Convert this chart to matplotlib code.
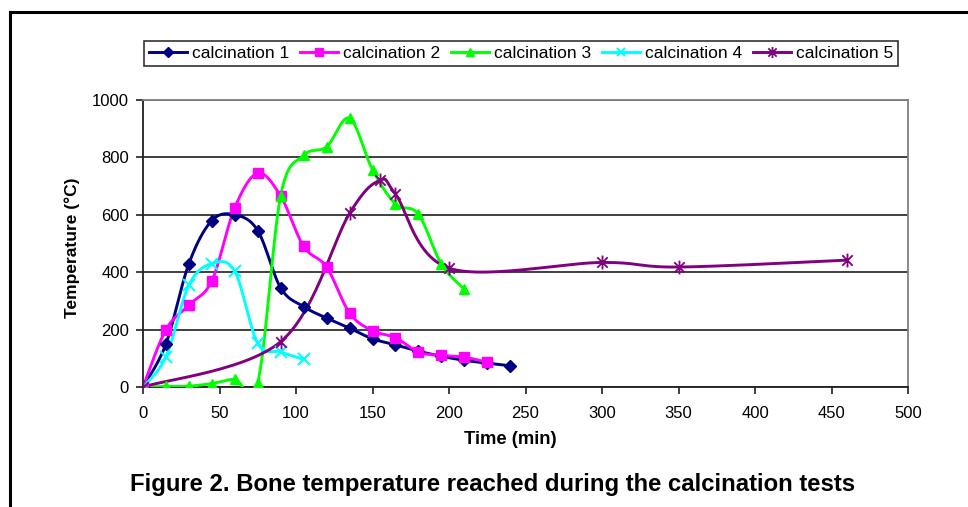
import numpy as np
import matplotlib
matplotlib.use("Agg")
import matplotlib.pyplot as plt
from matplotlib.path import Path
from matplotlib.lines import Line2D

plt.rcParams['font.family'] = ['Liberation Sans', 'DejaVu Sans']

# data (time in min, temperature in degC)
t1 = [0, 15, 30, 45, 60, 75, 90, 105, 120, 135, 150, 165, 180, 195, 210, 225, 240]
T1 = [0, 150, 430, 580, 600, 545, 345, 280, 240, 205, 168, 147, 125, 107, 93, 83, 74]

t2 = [0, 15, 30, 45, 60, 75, 90, 105, 120, 135, 150, 165, 180, 195, 210, 225]
T2 = [0, 200, 285, 370, 625, 745, 665, 490, 418, 258, 196, 172, 122, 110, 104, 86]

t3 = [0, 15, 30, 45, 60, 75, 90, 105, 120, 135, 150, 165, 180, 195, 210]
T3 = [0, 2, 3, 12, 27, 15, 667, 807, 837, 936, 757, 638, 602, 428, 341]

t4 = [0, 15, 30, 45, 60, 75, 90, 105]
T4 = [0, 105, 355, 430, 403, 152, 122, 96]

t5 = [0, 90, 135, 155, 165, 200, 300, 350, 460]
T5 = [0, 158, 605, 720, 672, 414, 434, 418, 442]

labels = ['calcination 1', 'calcination 2', 'calcination 3', 'calcination 4', 'calcination 5']
colors = ['#000080', '#FF00FF', '#00FF00', '#00FFFF', '#800080']

# asterisk marker like the spreadsheet one (x plus vertical bar)
star = Path([(0, -1), (0, 1), (-0.75, -0.75), (0.75, 0.75), (-0.75, 0.75), (0.75, -0.75)],
            [Path.MOVETO, Path.LINETO, Path.MOVETO, Path.LINETO, Path.MOVETO, Path.LINETO])
markers = [('D', 6, 1), ('s', 6.5, 1), ('^', 7.5, 1), ('x', 8, 1.5), (star, 10, 1.3)]


def smooth(x, y, n=30):
    # spreadsheet-style smoothed line: cubic bezier through the points
    x = np.asarray(x, float)
    y = np.asarray(y, float)
    p = np.column_stack([x, y])
    out = [p[:1]]
    s = np.linspace(0, 1, n)[1:, None]
    for i in range(len(p) - 1):
        p0 = p[i - 1] if i > 0 else p[i]
        p3 = p[i + 2] if i + 2 < len(p) else p[i + 1]
        c1 = p[i] + (p[i + 1] - p0) / 6
        c2 = p[i + 1] - (p3 - p[i]) / 6
        seg = ((1 - s) ** 3) * p[i] + 3 * ((1 - s) ** 2) * s * c1 \
            + 3 * (1 - s) * s ** 2 * c2 + s ** 3 * p[i + 1]
        out.append(seg)
    q = np.vstack(out)
    return q[:, 0], q[:, 1]


fig = plt.figure(figsize=(9.68, 5.07), dpi=100)
ax = fig.add_axes([143 / 968, 1 - 387 / 507, (908 - 143) / 968, (387 - 100) / 507])

series = [(t1, T1), (t2, T2), (t3, T3), (t4, T4), (t5, T5)]
handles = []
for (t, T), lab, col, (mk, ms, mew) in zip(series, labels, colors, markers):
    sx, sy = smooth(t, T)
    ax.plot(sx, sy, color=col, lw=2.1, zorder=3, solid_capstyle='round')
    ax.plot(t, T, ls='none', marker=mk, ms=ms, color=col, mec=col, mew=mew, zorder=4)
    handles.append(Line2D([], [], color=col, lw=2.1, marker=mk, ms=ms * 0.8, mec=col, mew=mew))

ax.set_xlim(0, 500)
ax.set_ylim(0, 1000)
ax.set_xticks(np.arange(0, 501, 50))
ax.set_yticks(np.arange(0, 1001, 200))
ax.grid(axis='y', color='#303030', lw=1.3)
ax.set_axisbelow(True)
ax.tick_params(direction='out', length=5, width=1.2, labelsize=12, color='#202020')
ax.tick_params(axis='x', pad=9)
ax.tick_params(axis='y', pad=5)
for side in ['left', 'bottom']:
    ax.spines[side].set_color('#202020')
    ax.spines[side].set_linewidth(1.3)
for side in ['top', 'right']:
    ax.spines[side].set_color('#808080')
    ax.spines[side].set_linewidth(1.3)

fig.text(72 / 968, 1 - 248 / 507, 'Temperature (°C)', rotation=90, ha='center', va='center',
         fontsize=12.5, fontweight='bold')
fig.text(510 / 968, 1 - 440 / 507, 'Time (min)', ha='center', va='center',
         fontsize=13.2, fontweight='bold')
fig.text(493 / 968, 1 - 485 / 507, 'Figure 2. Bone temperature reached during the calcination tests',
         ha='center', va='center', fontsize=17.2, fontweight='bold')

leg = fig.legend(handles, labels, ncol=5, loc='center',
                 bbox_to_anchor=(521 / 968, 1 - 53.5 / 507), bbox_transform=fig.transFigure,
                 fontsize=12.5, frameon=True, fancybox=False, handlelength=2.2,
                 handletextpad=0.3, columnspacing=0.6, borderpad=0.3, borderaxespad=0)
leg.get_frame().set_edgecolor('black')
leg.get_frame().set_linewidth(1.2)

# page frame lines (top and left)
fig.add_artist(Line2D([10 / 968, 10 / 968], [0, 1 - 12 / 507], color='black', lw=2.2,
                      transform=fig.transFigure))
fig.add_artist(Line2D([10 / 968, 1], [1 - 12 / 507, 1 - 12 / 507], color='black', lw=2.2,
                      transform=fig.transFigure))

fig.savefig('out.png', dpi=100)
